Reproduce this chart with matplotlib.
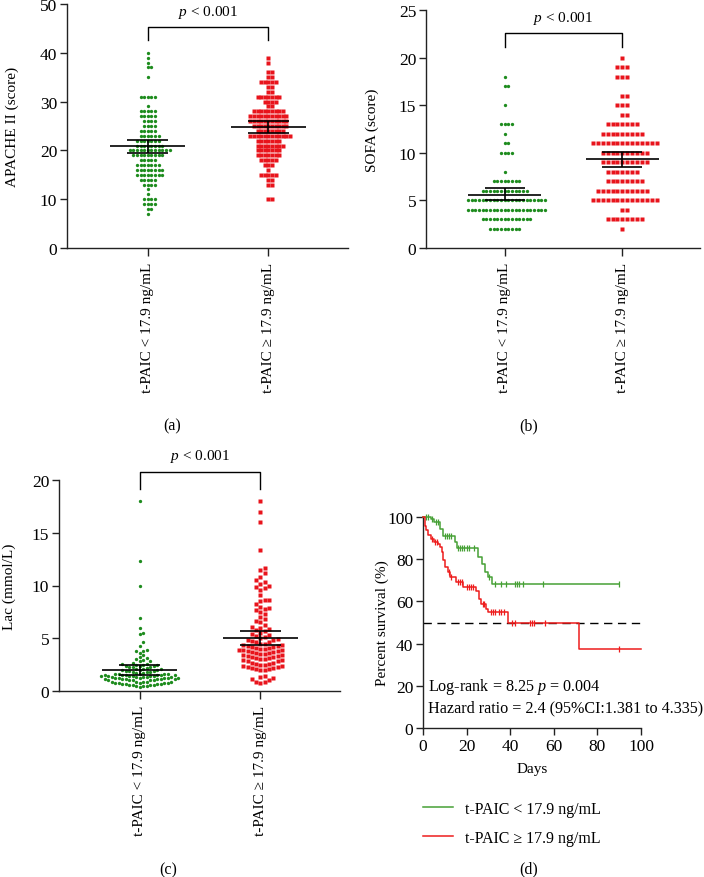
import numpy as np
import matplotlib
matplotlib.use('Agg')
import matplotlib.pyplot as plt
from matplotlib.lines import Line2D

plt.rcParams['font.family'] = ['Liberation Serif', 'DejaVu Serif']
plt.rcParams['mathtext.fontset'] = 'custom'
plt.rcParams['mathtext.it'] = 'Liberation Serif:italic'
plt.rcParams['mathtext.rm'] = 'Liberation Serif'

groups = ['t-PAIC < 17.9 ng/mL', 't-PAIC \u2265 17.9 ng/mL']

# APACHE II score: value levels and number of patients per level
apache_lv_low = [40, 39, 38, 37, 35, 31, 29, 28, 27, 26, 25, 24, 23, 22, 21, 20, 19, 18, 17, 16, 15, 14, 13, 12, 11, 10, 9, 8, 7]
apache_n_low = [1, 1, 1, 2, 1, 5, 1, 5, 5, 4, 4, 5, 6, 7, 8, 12, 9, 5, 7, 8, 8, 5, 4, 1, 1, 4, 4, 2, 1]
apache_lv_high = [39, 38, 36, 35, 34, 33, 32, 31, 30, 29, 28, 27, 26, 25, 24, 23, 22, 21, 20, 19, 18, 17, 16, 15, 14, 13, 10]
apache_n_high = [1, 1, 2, 2, 5, 2, 2, 7, 4, 2, 9, 11, 11, 10, 8, 12, 7, 8, 7, 7, 5, 3, 1, 5, 2, 2, 2]

# SOFA score
sofa_lv_low = [18, 17, 15, 13, 12, 11, 10, 8, 7, 6, 5, 4, 3, 2]
sofa_n_low = [1, 2, 1, 4, 1, 2, 4, 1, 8, 13, 22, 22, 14, 9]
sofa_lv_high = [20, 19, 18, 16, 15, 14, 13, 12, 11, 10, 9, 8, 7, 6, 5, 4, 3, 2]
sofa_n_high = [1, 3, 3, 2, 3, 2, 7, 9, 14, 10, 10, 7, 8, 11, 14, 2, 8, 1]

# Lactate (mmol/L)
lac_low = [18.0, 12.3, 10.0, 6.9, 6.0, 5.5, 5.4, 4.6, 4.3, 3.9, 3.8, 3.8, 3.6, 3.4, 3.2,
           3.1, 3.0, 2.9, 2.8, 2.8, 2.7,
           2.6, 2.6, 2.5, 2.5, 2.5, 2.4, 2.4, 2.4, 2.3, 2.3, 2.3, 2.2,
           2.1, 2.1, 2.1, 2.0, 2.0, 2.0, 1.9, 1.9, 1.9, 1.8, 1.8, 1.8, 1.7, 1.7,
           1.6, 1.6, 1.6, 1.6, 1.6, 1.5, 1.5, 1.5, 1.5, 1.5, 1.5, 1.4, 1.4, 1.4, 1.4, 1.4, 1.4,
           1.3, 1.3, 1.3, 1.3, 1.3,
           1.2, 1.2, 1.2, 1.2, 1.2, 1.2, 1.1, 1.1, 1.1, 1.1, 1.1, 1.1, 1.0, 1.0, 1.0, 1.0, 1.0,
           0.9, 0.9, 0.9, 0.9, 0.9,
           0.8, 0.8, 0.8, 0.8, 0.8, 0.7, 0.7, 0.7, 0.7, 0.6, 0.6, 0.6, 0.6, 0.5, 0.5, 0.5, 0.4]
lac_high = [18.0, 17.0, 16.0, 13.4, 11.7, 11.5, 11.2, 10.8, 10.5, 10.3, 10.1, 10.0, 9.9, 9.8, 9.6, 9.1,
            8.6, 8.6, 8.5, 8.2, 8.0, 7.9, 7.8, 7.7, 7.5, 7.3,
            7.0, 6.8, 6.6, 6.5, 6.3, 6.1, 6.0, 5.9, 5.8, 5.7, 5.5, 5.4, 5.3, 5.2, 5.1, 5.0,
            4.9, 4.8, 4.8, 4.7, 4.6, 4.6, 4.5, 4.5, 4.4, 4.4, 4.3, 4.3, 4.2, 4.2, 4.1, 4.1, 4.0, 4.0,
            3.9, 3.9, 3.9, 3.8, 3.8, 3.7, 3.7, 3.6, 3.6, 3.5, 3.5, 3.4, 3.4, 3.3, 3.3, 3.2, 3.2, 3.1, 3.1, 3.0, 3.0,
            2.9, 2.9, 2.8, 2.8, 2.7, 2.7, 2.6, 2.6, 2.5, 2.5, 2.4, 2.4, 2.3, 2.3, 2.2, 2.2, 2.1, 2.1, 2.0, 2.0,
            1.4, 1.3, 1.2, 1.1, 1.0, 0.9, 0.9, 0.8]

# mean and 95% CI (low group, high group)
apache_mean = [20.8, 24.8]
apache_ci = [(19.4, 22.1), (23.6, 26.1)]
sofa_mean = [5.6, 9.3]
sofa_ci = [(5.0, 6.3), (8.5, 10.1)]
lac_mean = [2.0, 5.0]
lac_ci = [(1.55, 2.45), (4.35, 5.7)]

# Kaplan-Meier steps
km_low_t = [0, 3.5, 5, 8, 9, 14.5, 15.5, 25, 27, 28.5, 30, 31.5, 90]
km_low_s = [100, 98.9, 97.7, 94.3, 90.9, 88.0, 85.2, 81.0, 77.5, 73.9, 71.5, 68.2, 68.2]
km_low_cens = [1.3, 2.2, 4.2, 6.0, 6.8, 10, 11, 12, 13, 16, 17, 18, 19, 20, 21, 23.5, 30.5,
               33, 36, 38, 42, 43, 44, 46, 55, 90]
km_high_t = [0, 0.7, 1.5, 2.5, 3.5, 5, 7, 8, 8.5, 9, 10, 11.3, 12.5, 15, 18.5, 24.5, 25.5, 26.5, 29, 29.7, 39, 71.5, 100]
km_high_s = [100, 95.5, 93.8, 91.5, 89.5, 88.3, 87.1, 85.8, 83.5, 79.5, 76.5, 74.0, 71.8, 69.4, 67.0, 64.8,
             61.3, 58.7, 56.5, 55.2, 49.8, 37.3, 37.3]
km_high_cens = [4.2, 5.5, 6.2, 12, 13, 16, 17, 18, 20, 21, 22, 23, 27.5, 28, 31, 32, 33, 35, 36, 37,
                41, 42, 49, 50, 51, 56, 90]

GREEN = '#1e8c1e'
RED = '#e8141c'
KM_GREEN = '#46a035'
KM_RED = '#ee1c1c'
AXC = '#222222'

fig = plt.figure(figsize=(7.04, 8.78), dpi=100)


def style_axes(ax, xsize=11, ysize=12.5):
    for s in ['top', 'right']:
        ax.spines[s].set_visible(False)
    for s in ['left', 'bottom']:
        ax.spines[s].set_color(AXC)
        ax.spines[s].set_linewidth(1.0)
    ax.tick_params(axis='y', direction='out', length=5, width=1.0, color=AXC, labelsize=ysize, pad=2)
    ax.tick_params(axis='x', direction='out', length=6, width=1.0, color=AXC, labelsize=xsize, pad=4)


def swarm_x(ax, vals, center, gap):
    vals = np.asarray(vals, dtype=float)
    pts = ax.transData.transform(np.column_stack([np.full(len(vals), center), vals]))
    xc = pts[0, 0]
    order = np.argsort(vals, kind='stable')
    cand = [0]
    for j in range(1, 80):
        cand += [j, -j]
    px, py = [], []
    xs = np.zeros(len(vals))
    for i in order:
        y = pts[i, 1]
        apx = np.array(px)
        apy = np.array(py)
        if len(apy):
            near = np.abs(apy - y) < gap
            nx, ny = apx[near], apy[near]
        else:
            nx, ny = apx, apy
        for c in cand:
            x = xc + c * gap
            if len(nx) == 0 or np.all((nx - x) ** 2 + (ny - y) ** 2 >= gap ** 2 * 0.98):
                break
        px.append(x)
        py.append(y)
        xs[i] = x
    back = ax.transData.inverted().transform(np.column_stack([xs, pts[:, 1]]))
    return back[:, 0]


def dot_panel(rect, low, high, means, cis, ylim, yticks, ylabel, label_x, gaps, bracket, ms=(2.4, 2.5)):
    ax = fig.add_axes(rect)
    style_axes(ax)
    ax.set_xlim(-0.67, 1.66)
    ax.set_ylim(*ylim)
    ax.set_yticks(yticks)
    ax.set_xticks([0, 1])
    ax.set_xticklabels(groups, rotation=90)
    ax.set_ylabel(ylabel, fontsize=11)
    ax.yaxis.set_label_coords(label_x, 0.5)
    for k, (vals, col, mk, g, m) in enumerate([(low, GREEN, 'o', gaps[0], ms[0]), (high, RED, 's', gaps[1], ms[1])]):
        xs = swarm_x(ax, vals, k, g)
        ax.plot(xs, vals, ls='none', marker=mk, ms=m, mfc=col, mec='none', clip_on=False, zorder=2)
        lo, hi = cis[k]
        ax.hlines(means[k], k - 0.31, k + 0.31, color='black', lw=1.2, zorder=4)
        ax.vlines(k, lo, hi, color='black', lw=1.2, zorder=4)
        ax.hlines([lo, hi], k - 0.17, k + 0.17, color='black', lw=1.2, zorder=4)
    leg, top, ytxt = bracket
    ax.plot([0, 0, 1, 1], [leg, top, top, leg], color='black', lw=1.0, clip_on=False)
    ax.text(0.5, ytxt, r'$p$ < 0.001', ha='center', va='center', fontsize=11)
    return ax


# (a) APACHE II
apache_low = np.repeat(apache_lv_low, apache_n_low)
apache_high = np.repeat(apache_lv_high, apache_n_high)
dot_panel([67 / 704, 1 - 249 / 878, 281 / 704, 244 / 878], apache_low, apache_high,
          apache_mean, apache_ci, (0, 50), [0, 10, 20, 30, 40, 50], 'APACHE II (score)', -0.171,
          (3.65, 3.6), (42.6, 45.2, 48.4))

# (b) SOFA
sofa_low = np.repeat(sofa_lv_low, sofa_n_low)
sofa_high = np.repeat(sofa_lv_high, sofa_n_high)
dot_panel([426 / 704, 1 - 249 / 878, 274 / 704, 238 / 878], sofa_low, sofa_high,
          sofa_mean, sofa_ci, (0, 25), [0, 5, 10, 15, 20, 25], 'SOFA (score)', -0.172,
          (3.67, 4.9), (21.1, 22.6, 24.2), ms=(2.4, 2.8))

# (c) Lac
dot_panel([59 / 704, 1 - 692 / 878, 281 / 704, 211 / 878], lac_low, lac_high,
          lac_mean, lac_ci, (0, 20), [0, 5, 10, 15, 20], 'Lac (mmol/L)', -0.153,
          (3.5, 4.3), (19.1, 20.8, 22.3), ms=(2.4, 2.6))

# (d) Kaplan-Meier
axd = fig.add_axes([423 / 704, 1 - 729 / 878, 218 / 704, 211 / 878])
style_axes(axd, xsize=12.5, ysize=12.5)
axd.tick_params(axis='x', length=5, pad=2)
axd.set_xlim(0, 100)
axd.set_ylim(0, 100)
axd.set_xticks([0, 20, 40, 60, 80, 100])
axd.set_yticks([0, 20, 40, 60, 80, 100])
axd.set_xlabel('Days', fontsize=11, labelpad=6)
axd.set_ylabel('Percent survival (%)', fontsize=11)
axd.yaxis.set_label_coords(-0.158, 0.5)
axd.hlines(50, 0, 100, color='black', lw=1.0, linestyles=(0, (6, 4)), zorder=1)
for t, s, cens, col in [(km_low_t, km_low_s, km_low_cens, KM_GREEN),
                        (km_high_t, km_high_s, km_high_cens, KM_RED)]:
    axd.step(t, s, where='post', color=col, lw=1.1, zorder=3, clip_on=False)
    idx = np.searchsorted(t, cens, side='right') - 1
    lev = np.asarray(s)[idx]
    axd.plot(cens, lev, ls='none', marker='|', ms=4, mew=0.9, color=col, zorder=3, clip_on=False)
axd.text(2.5, 20, r'Log-rank = 8.25 $p$ = 0.004', ha='left', va='center', fontsize=11.6)
axd.text(2.5, 10, 'Hazard ratio = 2.4 (95%CI:1.381 to 4.335)', ha='left', va='center', fontsize=11.6)

handles = [Line2D([], [], color=KM_GREEN, lw=1.1), Line2D([], [], color=KM_RED, lw=1.1)]
fig.legend(handles, groups, loc='upper left', bbox_to_anchor=(423 / 704, 1 - 802 / 878),
           frameon=False, fontsize=11.5, handlelength=1.9, handletextpad=0.7, labelspacing=0.8,
           borderaxespad=0, borderpad=0)

# panel letters
for lab, x, y in [('(a)', 172, 426), ('(b)', 529, 426), ('(c)', 168, 870), ('(d)', 529, 869)]:
    fig.text(x / 704, 1 - y / 878, lab, ha='center', va='center', fontsize=11.5)

fig.savefig('out.png', dpi=100)
